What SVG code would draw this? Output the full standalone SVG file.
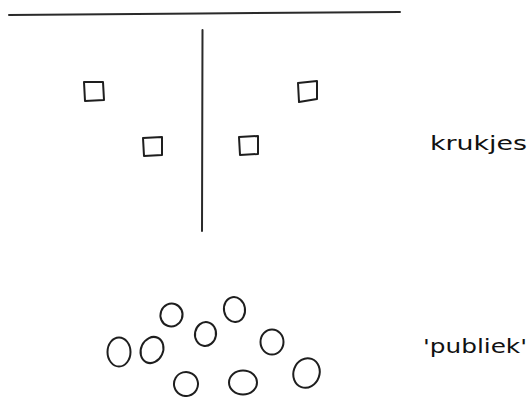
<svg xmlns="http://www.w3.org/2000/svg" width="531" height="397" viewBox="0 0 531 397">
<style>
.ink{fill:none;stroke:#1e1e1e;stroke-width:2;stroke-linejoin:round;stroke-linecap:round}
.line{fill:none;stroke:#2a2a2a;stroke-width:2;stroke-linecap:round}
.lbl{font-family:"DejaVu Sans","Liberation Sans",sans-serif;font-size:20px;fill:#111111}
</style>
<rect width="531" height="397" fill="#ffffff"/>
<g id="lines">
<path class="line" d="M9,15 L200,13.5 L400,12"/>
<path class="line" d="M202.5,30 L202,231"/>
</g>
<g id="kruk1"><polygon class="ink" points="84,82 103,82 104,100 85,101"/></g>
<g id="kruk2"><polygon class="ink" points="143,138 162,137 162,155 144,156"/></g>
<g id="kruk3"><polygon class="ink" points="239,137 258,136 258,154 240,155"/></g>
<g id="kruk4"><polygon class="ink" points="298,83 317,81 317,99 299,102"/></g>
<g id="publiek1"><ellipse class="ink" cx="171.5" cy="315" rx="11" ry="11.5" transform="rotate(20 171.5 315)"/></g>
<g id="publiek2"><ellipse class="ink" cx="234.5" cy="309.5" rx="10.5" ry="12.5" transform="rotate(-10 234.5 309.5)"/></g>
<g id="publiek3"><ellipse class="ink" cx="205.5" cy="334" rx="10.5" ry="12" transform="rotate(10 205.5 334)"/></g>
<g id="publiek4"><ellipse class="ink" cx="119" cy="352" rx="11.5" ry="14.5"/></g>
<g id="publiek5"><ellipse class="ink" cx="152" cy="350" rx="11" ry="13.5" transform="rotate(25 152 350)"/></g>
<g id="publiek6"><ellipse class="ink" cx="272" cy="342" rx="11.5" ry="12.5"/></g>
<g id="publiek7"><ellipse class="ink" cx="186" cy="384" rx="12" ry="12" transform="rotate(30 186 384)"/></g>
<g id="publiek8"><ellipse class="ink" cx="243" cy="382.5" rx="14" ry="12"/></g>
<g id="publiek9"><ellipse class="ink" cx="306.5" cy="373" rx="13" ry="15" transform="rotate(20 306.5 373)"/></g>
<g id="label-krukjes"><text class="lbl" x="430" y="150" textLength="97" lengthAdjust="spacingAndGlyphs">krukjes</text></g>
<g id="label-publiek"><text class="lbl" x="423" y="353" textLength="104" lengthAdjust="spacingAndGlyphs">'publiek'</text></g>
</svg>
